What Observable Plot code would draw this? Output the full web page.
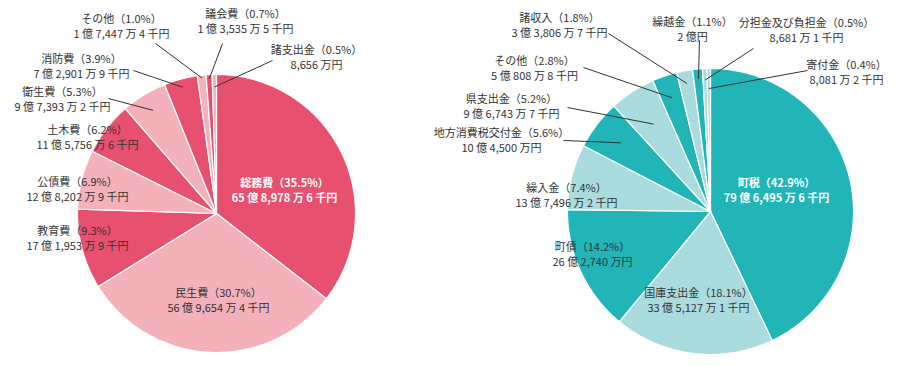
<!DOCTYPE html>
<html><head><meta charset="utf-8">
<script src="https://cdn.jsdelivr.net/npm/d3@7"></script>
<script src="https://cdn.jsdelivr.net/npm/@observablehq/plot@0.6"></script>
<style>
body{margin:0;background:#fff;}
#chart svg{display:block;}
</style>
</head><body><div id="chart"></div>
<script>
// ---- Data: 歳出 (expenditure) ----
const expCategories = ["総務費","民生費","教育費","公債費","土木費","衛生費","消防費","その他","議会費","諸支出金"];
const expShares = [35.5,30.7,9.3,6.9,6.2,5.3,3.9,1.0,0.7,0.5];
const expAmounts = ["65 億 8,978 万 6 千円","56 億 9,654 万 4 千円","17 億 1,953 万 9 千円","12 億 8,202 万 9 千円","11 億 5,756 万 6 千円","9 億 7,393 万 2 千円","7 億 2,901 万 9 千円","1 億 7,447 万 4 千円","1 億 3,535 万 5 千円","8,656 万円"];
const expTones = ["dark","light","dark","light","dark","light","dark","light","dark","light"];

// ---- Data: 歳入 (revenue) ----
const revCategories = ["町税","国庫支出金","町債","繰入金","地方消費税交付金","県支出金","その他","諸収入","繰越金","分担金及び負担金","寄付金"];
const revShares = [42.9,18.1,14.2,7.4,5.6,5.2,2.8,1.8,1.1,0.5,0.4];
const revAmounts = ["79 億 6,495 万 6 千円","33 億 5,127 万 1 千円","26 億 2,740 万円","13 億 7,496 万 2 千円","10 億 4,500 万円","9 億 6,743 万 7 千円","5 億 808 万 8 千円","3 億 3,806 万 7 千円","2 億円","8,681 万 1 千円","8,081 万 2 千円"];
const revTones = ["dark","light","dark","light","dark","light","dark","light","dark","light","light"];

// ---- Layout (page units) ----
const pieLayout = {
  exp: {cx: 216, cy: 213, r: 139, palette: {dark: "#e8506f", light: "#f4b1b9"}},
  rev: {cx: 710, cy: 211, r: 143, palette: {dark: "#21b5b8", light: "#abdcdd"}}
};
// label centre, style, optional leader line (start point, end radius fraction at slice mid-angle)
const expLabelLayout = [
  {lx: 284, ly: 190, white: true},
  {lx: 218, ly: 300},
  {lx: 77, ly: 238},
  {lx: 77, ly: 189},
  {lx: 87, ly: 137},
  {lx: 62, ly: 99, sx: 108, sy: 98, rf: 0.87},
  {lx: 81, ly: 66, sx: 133, sy: 70, rf: 0.94},
  {lx: 121, ly: 26, sx: 155, sy: 43, rf: 0.98},
  {lx: 245, ly: 21, sx: 222, sy: 43, rf: 0.97},
  {lx: 316, ly: 57, sx: 272, sy: 60, rf: 0.91}
];
const revLabelLayout = [
  {lx: 776, ly: 190, white: true},
  {lx: 698, ly: 300},
  {lx: 592, ly: 254},
  {lx: 566, ly: 195},
  {lx: 501, ly: 140, sx: 563, sy: 140, rf: 0.79},
  {lx: 511, ly: 106, sx: 567, sy: 107, rf: 0.73},
  {lx: 534, ly: 68, sx: 583, sy: 67, rf: 0.84},
  {lx: 559, ly: 25, sx: 608, sy: 33, rf: 0.91},
  {lx: 692, ly: 29, sx: 699, sy: 40, rf: 0.93},
  {lx: 806, ly: 30, sx: 753, sy: 48, rf: 0.92},
  {lx: 846, ly: 72, sx: 807, sy: 70, rf: 0.86}
];

// ---- Build slices, labels and leader lines from the data ----
const slicePoints = [];
const labels = [];
const leaders = [];
function buildPie(key, cats, shares, amounts, tones, layout) {
  const {cx, cy, r} = pieLayout[key];
  const total = d3.sum(shares);
  let cum = 0;
  cats.forEach((c, i) => {
    const a0 = cum / total * 2 * Math.PI;
    cum += shares[i];
    const a1 = cum / total * 2 * Math.PI;
    const id = key + i;
    const tone = key + "-" + tones[i];
    slicePoints.push({id, tone, x: cx, y: cy});
    const n = Math.max(2, Math.ceil((a1 - a0) / 0.01));
    for (let k = 0; k <= n; k++) {
      const t = a0 + (a1 - a0) * k / n;
      slicePoints.push({id, tone, x: cx + r * Math.sin(t), y: cy - r * Math.cos(t)});
    }
    slicePoints.push({id, tone, x: cx, y: cy});
    const L = layout[i];
    labels.push({x: L.lx, y: L.ly, white: !!L.white,
      line1: c + "（" + shares[i].toFixed(1) + "%）", line2: amounts[i]});
    if (L.sx != null) {
      const am = (a0 + a1) / 2;
      leaders.push({x1: L.sx, y1: L.sy, x2: cx + r * L.rf * Math.sin(am), y2: cy - r * L.rf * Math.cos(am)});
    }
  });
}
buildPie("exp", expCategories, expShares, expAmounts, expTones, expLabelLayout);
buildPie("rev", revCategories, revShares, revAmounts, revTones, revLabelLayout);

const font = "'Noto Sans CJK JP', 'Noto Sans', sans-serif";
const dark = labels.filter(d => !d.white);
const white = labels.filter(d => d.white);
const textOpts = (fill, weight) => ({x: "x", y: "y", fill, fontWeight: weight, fontSize: 11, fontFamily: font});
const chart = Plot.plot({
  width: 900,
  height: 365,
  margin: 0,
  style: {background: "#fff", fontFamily: font},
  x: {domain: [0, 900], range: [0, 900], axis: null},
  y: {domain: [0, 365], range: [0, 365], axis: null},
  color: {
    domain: ["exp-dark", "exp-light", "rev-dark", "rev-light"],
    range: [pieLayout.exp.palette.dark, pieLayout.exp.palette.light, pieLayout.rev.palette.dark, pieLayout.rev.palette.light]
  },
  marks: [
    Plot.line(slicePoints, {x: "x", y: "y", z: "id", fill: "tone", stroke: "#fff", strokeWidth: 1.2, strokeLinejoin: "round"}),
    Plot.link(leaders, {x1: "x1", y1: "y1", x2: "x2", y2: "y2", stroke: "#333", strokeWidth: 1}),
    Plot.text(dark, {...textOpts("#333", "normal"), text: "line1", dy: -7.5}),
    Plot.text(dark, {...textOpts("#333", "normal"), text: "line2", dy: 7.5}),
    Plot.text(white, {...textOpts("#fff", "bold"), text: "line1", dy: -7.5}),
    Plot.text(white, {...textOpts("#fff", "bold"), text: "line2", dy: 7.5})
  ]
});
document.getElementById("chart").appendChild(chart);
</script>
</body></html>
